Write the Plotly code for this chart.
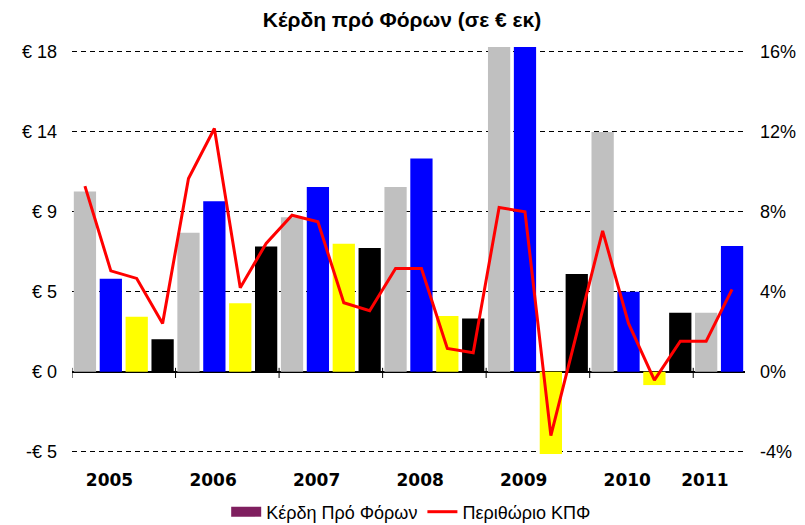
import plotly.graph_objects as go

# ---------------- data ----------------
periods = [
    "2005-Q1", "2005-Q2", "2005-Q3", "2005-Q4",
    "2006-Q1", "2006-Q2", "2006-Q3", "2006-Q4",
    "2007-Q1", "2007-Q2", "2007-Q3", "2007-Q4",
    "2008-Q1", "2008-Q2", "2008-Q3", "2008-Q4",
    "2009-Q1", "2009-Q2", "2009-Q3", "2009-Q4",
    "2010-Q1", "2010-Q2", "2010-Q3", "2010-Q4",
    "2011-Q1", "2011-Q2",
]
profit_before_tax = [
    10.15, 5.23, 3.10, 1.83,
    7.83, 9.60, 3.85, 7.05,
    8.70, 10.40, 7.20, 6.97,
    10.40, 12.00, 3.14, 3.00,
    21.50, 23.00, -5.20, 5.50,
    13.50, 4.50, -0.75, 3.32,
    3.32, 7.08,
]
pbt_margin = [
    9.29, 5.05, 4.67, 2.42,
    9.67, 12.17, 4.20, 6.42,
    7.83, 7.50, 3.45, 3.05,
    5.17, 5.17, 1.17, 0.95,
    8.22, 8.00, -3.20, 1.90,
    7.05, 2.42, -0.42, 1.53,
    1.53, 4.12,
]
year_labels = ["2005", "2006", "2007", "2008", "2009", "2010", "2011"]
left_tick_vals = [-4.5, 0, 4.5, 9, 13.5, 18]
left_tick_text = ["-€ 5", "€ 0", "€ 5", "€ 9", "€ 14", "€ 18"]
right_tick_vals = [-4, 0, 4, 8, 12, 16]
right_tick_text = ["-4%", "0%", "4%", "8%", "12%", "16%"]

# ---------------- styling helpers ----------------
quarter_colors = {"Q1": "#c0c0c0", "Q2": "#0000ff", "Q3": "#ffff00", "Q4": "#000000"}
bar_colors = [quarter_colors[p.split("-")[1]] for p in periods]
x_idx = list(range(len(periods)))
period_years = [p.split("-")[0] for p in periods]

# year groups
group_first, group_last = {}, {}
for i, y in enumerate(period_years):
    group_first.setdefault(y, i)
    group_last[y] = i
label_pos = [(group_first[y] + group_last[y]) / 2 - 0.55 for y in year_labels]
boundaries = [group_first[y] - 0.5 for y in year_labels]

y_range = [-4.63, 18.28]
ratio = 4 / 4.5
y2_range = [y_range[0] * ratio, y_range[1] * ratio]

# the page body has an 8px margin: the figure is sized to fit inside the window
W, H = 797, 517

fig = go.Figure()
fig.add_trace(go.Bar(
    x=x_idx, y=profit_before_tax, customdata=periods,
    marker=dict(color=bar_colors, line=dict(width=0)),
    showlegend=False, name="Κέρδη Πρό Φόρων",
    hovertemplate="%{customdata}: € %{y}<extra></extra>",
))
# legend entry for the bars (wide swatch)
fig.add_trace(go.Scatter(
    x=[None], y=[None], mode="lines", name="Κέρδη Πρό Φόρων",
    line=dict(color="#7f1f5f", width=11), showlegend=True,
))
fig.add_trace(go.Scatter(
    x=x_idx, y=pbt_margin, customdata=periods, yaxis="y2", mode="lines",
    name="Περιθώριο ΚΠΦ", line=dict(color="#ff0000", width=3),
    hovertemplate="%{customdata}: %{y}%<extra></extra>",
))

for b in boundaries:
    fig.add_shape(type="line", xref="x", yref="y", x0=b, x1=b, y0=-0.35, y1=0.22,
                  line=dict(color="black", width=1))

fig.update_layout(
    width=W, height=H,
    margin=dict(l=64, r=60, t=39, b=71, autoexpand=False),
    paper_bgcolor="white", plot_bgcolor="white",
    bargap=0.14, barmode="overlay",
    title=dict(text="<b>Κέρδη πρό Φόρων (σε € εκ)</b>", x=394 / W, xref="container", xanchor="center",
               y=1 - 12 / H, yref="container", yanchor="middle",
               font=dict(family="Liberation Sans, Arial", size=21, color="black")),
    font=dict(family="Liberation Sans, Arial", size=18, color="black"),
    legend=dict(orientation="h", x=0.504, xanchor="center", y=1 - 504 / H, yref="container",
                yanchor="middle", font=dict(size=18), itemwidth=30, tracegroupgap=0,
                bgcolor="rgba(0,0,0,0)"),
    xaxis=dict(range=[-0.5, len(periods) - 0.5], tickmode="array", tickvals=label_pos,
               ticktext=year_labels, showgrid=False, zeroline=False, showline=False,
               ticks="", ticklabelstandoff=14, automargin=False,
               tickfont=dict(family="DejaVu Sans", size=17, color="black", weight="bold")),
    yaxis=dict(range=y_range, tickmode="array", tickvals=left_tick_vals, ticktext=left_tick_text,
               showgrid=True, gridcolor="black", gridwidth=1, griddash="5px,4px",
               zeroline=True, zerolinecolor="black", zerolinewidth=1.5,
               showline=False, ticks="", ticklabelstandoff=14, automargin=False,
               tickfont=dict(size=18, color="black")),
    yaxis2=dict(range=y2_range, overlaying="y", side="right", tickmode="array",
                tickvals=right_tick_vals, ticktext=right_tick_text, showgrid=False,
                zeroline=False, showline=False, ticks="", ticklabelstandoff=14, automargin=False,
                tickfont=dict(size=18, color="black")),
)

fig.write_html("out.html")
